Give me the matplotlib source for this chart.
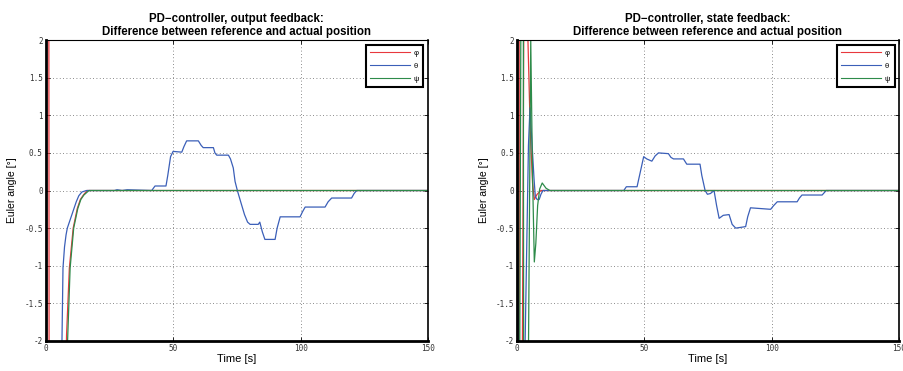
import numpy as np
import matplotlib
matplotlib.use("Agg")
import matplotlib.pyplot as plt

plt.rcParams['axes.unicode_minus'] = False
plt.rcParams['font.family'] = ['Liberation Sans', 'DejaVu Sans']

# ---- data (time [s], angle error [deg]) ----
# output feedback panel
of_phi_t = [0, 1.1, 1.5, 8.0, 8.2, 9.3, 10.8, 12.4, 13.6, 14.8, 16.3, 150]
of_phi_y = [10, 10, -10, -2.4, -1.92, -1.03, -0.5, -0.24, -0.12, -0.06, 0, 0]
of_theta_t = [0, 0.3, 6.4, 6.8, 7.4, 8.0, 8.5, 9.3, 10.2, 11.0, 12.0, 13.0, 14.2, 16.0, 27, 28, 30, 32,
              41.6, 42.9, 47.2, 47.9, 49.0, 50.0, 53.4, 54.2, 55.3, 59.9, 61.0, 61.8, 65.8, 66.4,
              67.1, 71.7, 72.5, 73.6, 74.3, 75.2, 76.5, 78.0, 79.2, 80.2, 83.4, 84.0, 85.0, 86.0,
              90.0, 90.8, 92.0, 99.8, 100.8, 101.8, 109.6, 110.8, 112.2, 120.0, 121.0, 122.0, 150]
of_theta_y = [0, -10, -2.0, -1.03, -0.75, -0.59, -0.5, -0.42, -0.33, -0.25, -0.15, -0.07, -0.02, 0,
              0, 0.01, 0.0, 0.01,
              0.0, 0.06, 0.06, 0.2, 0.45, 0.52, 0.51, 0.58, 0.66, 0.66, 0.6, 0.57, 0.57, 0.5,
              0.47, 0.47, 0.42, 0.3, 0.12, 0.0, -0.15, -0.32, -0.42, -0.45, -0.45, -0.42, -0.55, -0.65,
              -0.65, -0.5, -0.35, -0.35, -0.28, -0.22, -0.22, -0.15, -0.1, -0.1, -0.04, 0, 0]
of_psi_t = [0, 0.2, 0.4, 8.6, 9.6, 11.0, 12.6, 13.8, 15.0, 17.0, 150]
of_psi_y = [0, 10, -10, -2.0, -1.03, -0.5, -0.24, -0.12, -0.06, 0, 0]

# state feedback panel
sf_phi_t = [0, 0.8, 1.2, 3.8, 4.4, 5.3, 6.2, 6.9, 8.0, 9.5, 150]
sf_phi_y = [0, 10, -10, 10, 2.0, 0.8, 0.1, -0.12, -0.05, 0, 0]
sf_theta_t = [0, 0.3, 2.6, 3.3, 4.6, 5.2, 5.7, 6.2, 6.8, 7.3, 8.0, 8.8, 9.5, 10.3, 42.0, 43.0, 47.2,
              48.5, 49.8, 51.0, 53.0, 54.3, 55.6, 59.5, 60.5, 61.5, 65.4, 66.7, 71.9, 72.6, 73.9,
              74.8, 76.0, 77.4, 78.4, 79.4, 81.0, 83.3, 84.5, 85.9, 89.8, 90.6, 91.7, 99.6, 100.8,
              102.2, 110.0, 110.9, 111.9, 119.8, 120.6, 121.4, 150]
sf_theta_y = [0, 0.3, -10, -2.0, 0.6, 1.1, 0.8, 0.5, 0.15, -0.08, -0.12, -0.12, -0.05, 0, 0, 0.05,
              0.05, 0.25, 0.45, 0.42, 0.39, 0.46, 0.5, 0.49, 0.44, 0.42, 0.42, 0.35, 0.35, 0.2, 0.0,
              -0.05, -0.04, 0.0, -0.2, -0.37, -0.33, -0.32, -0.45, -0.5, -0.48, -0.35, -0.23, -0.25,
              -0.2, -0.15, -0.15, -0.1, -0.06, -0.06, -0.03, 0, 0]
sf_psi_t = [0, 0.2, 0.4, 2.4, 2.9, 5.5, 6.2, 6.9, 7.5, 8.2, 9.0, 10.0, 11.5, 13.0, 150]
sf_psi_y = [0, 10, -10, 10, -10, 2.0, 0.2, -0.95, -0.7, -0.2, 0.02, 0.1, 0.03, 0, 0]

x_ticks = [0, 50, 100, 150]
y_ticks = [-2, -1.5, -1, -0.5, 0, 0.5, 1, 1.5, 2]
y_tick_labels = ['-2', '-1.5', '-1', '-0.5', '0', '0.5', '1', '1.5', '2']
series_labels = ['φ', 'θ', 'ψ']
colors = ['#e8383d', '#3b5fb8', '#2e8b4a']

titles = ['PD\u2212controller, output feedback:\nDifference between reference and actual position',
          'PD\u2212controller, state feedback:\nDifference between reference and actual position']

panels = [
    [(of_phi_t, of_phi_y), (of_theta_t, of_theta_y), (of_psi_t, of_psi_y)],
    [(sf_phi_t, sf_phi_y), (sf_theta_t, sf_theta_y), (sf_psi_t, sf_psi_y)],
]

fig = plt.figure(figsize=(9.04, 3.71), dpi=100)
lefts = [0.0505, 0.5716]

for k, panel in enumerate(panels):
    ax = fig.add_axes([lefts[k], 0.081, 0.423, 0.811])
    for (t, y), c, lab in zip(panel, colors, series_labels):
        ax.plot(t, y, color=c, lw=0.9, label=lab)
    ax.set_xlim(0, 150)
    ax.set_ylim(-2, 2)
    ax.set_xticks(x_ticks)
    ax.set_yticks(y_ticks)
    ax.set_yticklabels(y_tick_labels)
    ax.tick_params(direction='in', length=3, width=0.6, top=True, right=True,
                   labelsize=5.5, pad=2)
    for lab in ax.get_xticklabels() + ax.get_yticklabels():
        lab.set_family('DejaVu Sans Mono')
        lab.set_color('#333333')
    ax.grid(True, linestyle=(0, (1, 3)), color='#666666', linewidth=0.6)
    ax.spines['left'].set_linewidth(2.0)
    ax.spines['bottom'].set_linewidth(2.0)
    ax.spines['top'].set_linewidth(0.8)
    ax.spines['right'].set_linewidth(1.2)
    ax.set_xlabel('Time [s]', fontsize=8, labelpad=1)
    ax.set_ylabel('Euler angle [°]', fontsize=7.5, labelpad=5)
    ax.set_title(titles[k], fontsize=8.3, fontweight='bold', pad=4, linespacing=1.05)
    leg = ax.legend(loc='upper right', bbox_to_anchor=(0.988, 0.983), fontsize=5.5,
                    handlelength=5.2, handletextpad=0.5, borderpad=0.55, labelspacing=0.75,
                    borderaxespad=0, fancybox=False, framealpha=1)
    leg.get_frame().set_edgecolor('black')
    leg.get_frame().set_linewidth(1.5)
    for line in leg.get_lines():
        line.set_linewidth(0.8)

fig.savefig('out.png', dpi=100)
